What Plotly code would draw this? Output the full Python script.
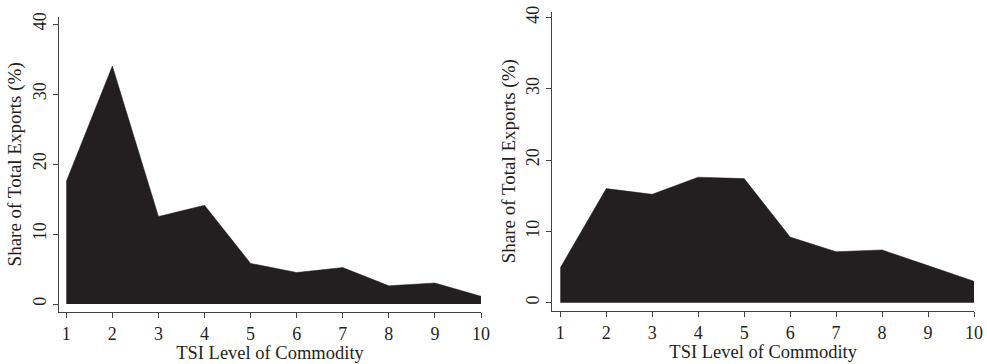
import plotly.graph_objects as go

tsi_levels = [1, 2, 3, 4, 5, 6, 7, 8, 9, 10]
share_left = [17.5, 34.0, 12.5, 14.1, 5.8, 4.5, 5.2, 2.6, 3.0, 1.1]
share_right = [4.9, 16.0, 15.2, 17.6, 17.4, 9.2, 7.15, 7.4, 5.2, 3.0]
y_ticks = [0, 10, 20, 30, 40]
x_title = "TSI Level of Commodity"
y_title = "Share of Total Exports (%)"

FILL = "#231f20"
AXIS = "#444444"
TXT = "#231f20"
FONT = "Liberation Serif"

fig = go.Figure()
fig.add_trace(go.Scatter(x=tsi_levels, y=share_left, mode="lines", fill="tozeroy",
                         fillcolor=FILL, line=dict(color=FILL, width=0.5),
                         xaxis="x", yaxis="y", showlegend=False))
fig.add_trace(go.Scatter(x=tsi_levels, y=share_right, mode="lines", fill="tozeroy",
                         fillcolor=FILL, line=dict(color=FILL, width=0.5),
                         xaxis="x2", yaxis="y2", showlegend=False))

W, H = 987, 364

def xa(dom_px, rng):
    return dict(domain=[dom_px[0] / W, dom_px[1] / W], range=rng,
                tickvals=tsi_levels, ticks="outside", ticklen=5, tickwidth=1.2,
                tickcolor=AXIS, showline=True, linecolor=AXIS, linewidth=1.4,
                showgrid=False, zeroline=False,
                tickfont=dict(family=FONT, size=18, color=TXT),
                title=dict(text=x_title, font=dict(family=FONT, size=18.5, color=TXT), standoff=0),
                automargin=False)

def ya(dom_px, rng, anchor):
    return dict(domain=[1 - dom_px[1] / H, 1 - dom_px[0] / H], range=rng, anchor=anchor,
                tickvals=y_ticks, ticks="outside", ticklen=5, tickwidth=1.2,
                tickcolor=AXIS, showline=True, linecolor=AXIS, linewidth=1.4,
                showgrid=False, zeroline=False, tickangle=-90,
                tickfont=dict(family=FONT, size=18, color=TXT),
                title=dict(text=y_title, font=dict(family=FONT, size=19, color=TXT), standoff=2),
                automargin=False)

fig.update_layout(
    width=W, height=H,
    margin=dict(l=0, r=0, t=0, b=0),
    paper_bgcolor="white", plot_bgcolor="white",
    xaxis=dict(xa((59, 481), [0.842, 10.0]), anchor="y"),
    yaxis=ya((17, 311.7), [-1.1, 41.0], "x"),
    xaxis2=dict(xa((552.3, 974), [0.826, 10.0]), anchor="y2"),
    yaxis2=ya((11.7, 310.7), [-1.12, 40.8], "x2"),
)

fig.write_html("out.html", config={"displayModeBar": False},
               post_script="document.body.style.margin='0';")
